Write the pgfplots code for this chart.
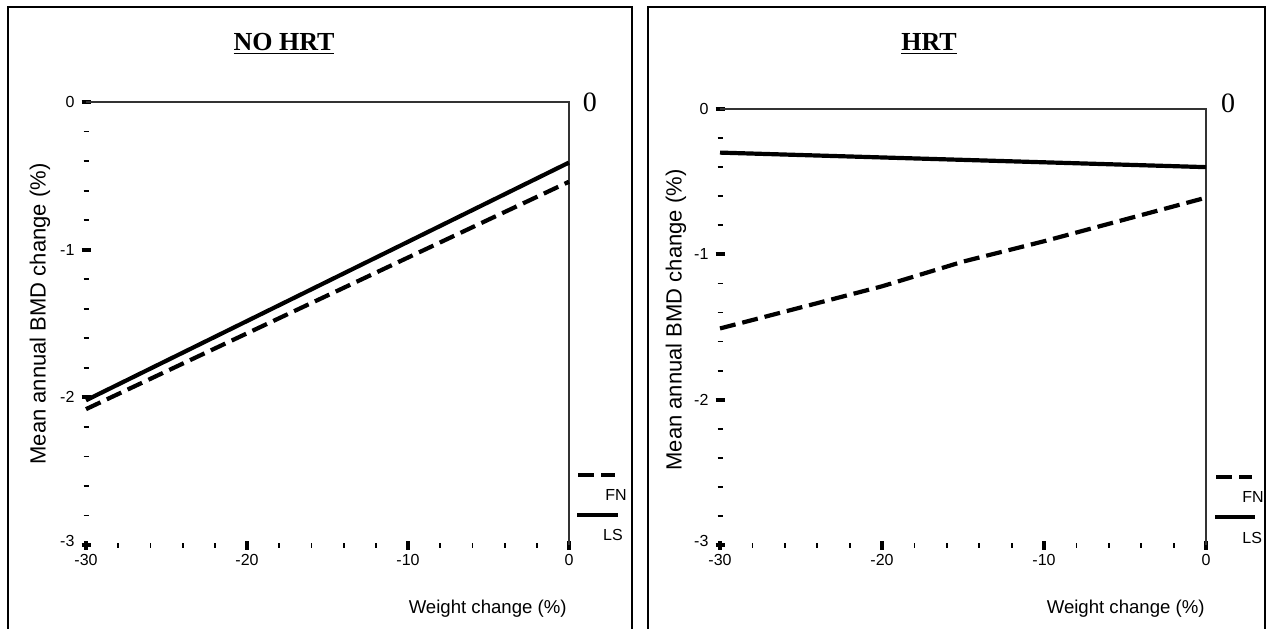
\documentclass[border=0pt]{standalone}
\usepackage{fontspec}
\setmainfont{Liberation Serif}
\newfontfamily\arial{Liberation Sans}
\usepackage{pgfplots}
\pgfplotsset{compat=1.18}

\tikzset{
  fn/.style={line width=2.1pt, dash pattern=on 8pt off 3.5pt},
  ls/.style={line width=2.1pt},
}
\pgfplotsset{
  bmd/.style={
    scale only axis, anchor=south west,
    xmin=-30, xmax=0, ymin=-3, ymax=0,
    axis x line*=bottom, axis y line*=left,
    axis line style={draw=none},
    clip=false,
    xtick={-30,-20,-10,0}, xticklabels={-30,-20,-10,0},
    minor xtick={-28,-26,...,-2},
    ytick={-3,-2,-1,0}, yticklabels={{\raisebox{4pt}{-3}},-2,-1,0},
    minor ytick={-2.8,-2.6,-2.4,-2.2,-1.8,-1.6,-1.4,-1.2,-0.8,-0.6,-0.4,-0.2},
    tick align=center,
    major tick length=4.5pt, minor tick length=2.5pt,
    major tick style={line width=2pt, black},
    minor tick style={line width=0.9pt, black},
    tick label style={font=\arial\fontsize{8}{9.5}\selectfont},
    xticklabel style={yshift=1pt},
  },
}

\begin{document}
\begin{tikzpicture}
\path[use as bounding box] (0,0) rectangle (634pt,314pt);

% panel frames
\draw[line width=1pt] (4pt,-5pt) rectangle (316pt,310.5pt);
\draw[line width=1pt] (324pt,-5pt) rectangle (632.5pt,310.5pt);

% NO HRT
\begin{axis}[bmd, at={(43pt,41.5pt)}, width=241.5pt, height=221.5pt]
\draw[line width=0.6pt, black!80] (axis cs:-30,0) -- (axis cs:0,0) -- (axis cs:0,-3);
\addplot[ls] coordinates {(-30,-2.02) (0,-0.41)};
\addplot[fn] coordinates {(-30,-2.08) (0,-0.54)};
\draw[fn] (axis cs:0.56,-2.526) -- (axis cs:2.86,-2.526);
\node[font=\arial\fontsize{8}{9.5}\selectfont] at (axis cs:2.92,-2.66) {FN};
\draw[ls] (axis cs:0.5,-2.797) -- (axis cs:3.04,-2.797);
\node[font=\arial\fontsize{8}{9.5}\selectfont] at (axis cs:2.73,-2.93) {LS};
\node[font=\fontsize{14}{16}\selectfont] at (axis cs:1.3,0) {0};
\end{axis}

% HRT
\begin{axis}[bmd, at={(360pt,41.5pt)}, width=243pt, height=218pt]
\draw[line width=0.6pt, black!80] (axis cs:-30,0) -- (axis cs:0,0) -- (axis cs:0,-3);
\addplot[ls] coordinates {(-30,-0.30) (-15,-0.35) (0,-0.40)};
\addplot[fn] coordinates {(-30,-1.51) (-20,-1.22) (-15,-1.05) (-10,-0.91) (0,-0.61)};
\draw[fn] (axis cs:0.62,-2.53) -- (axis cs:2.84,-2.53);
\node[font=\arial\fontsize{8}{9.5}\selectfont] at (axis cs:2.9,-2.67) {FN};
\draw[ls] (axis cs:0.56,-2.81) -- (axis cs:3.02,-2.81);
\node[font=\arial\fontsize{8}{9.5}\selectfont] at (axis cs:2.85,-2.95) {LS};
\node[font=\fontsize{14}{16}\selectfont] at (axis cs:1.36,0.04) {0};
\end{axis}

% titles and labels
\node[font=\bfseries\fontsize{13}{15}\selectfont] at (142pt,292pt) {\underline{NO HRT}};
\node[font=\bfseries\fontsize{13}{15}\selectfont] at (464.5pt,292pt) {\underline{HRT}};
\node[font=\arial\fontsize{11}{13}\selectfont, rotate=90] at (20pt,157pt) {Mean annual BMD change (\%)};
\node[font=\arial\fontsize{11}{13}\selectfont, rotate=90] at (338pt,154pt) {Mean annual BMD change (\%)};
\node[font=\arial\fontsize{9.3}{11}\selectfont, anchor=east, inner xsep=0pt] at (283.5pt,9.5pt) {Weight change (\%)};
\node[font=\arial\fontsize{9.3}{11}\selectfont, anchor=east, inner xsep=0pt] at (602.5pt,9.5pt) {Weight change (\%)};
\end{tikzpicture}
\end{document}
